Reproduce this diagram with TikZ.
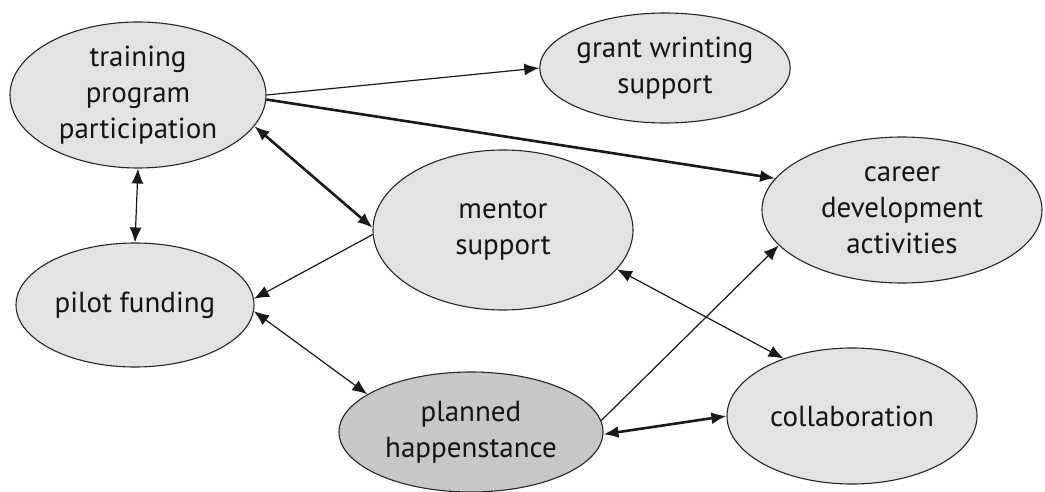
\documentclass[tikz,border=0pt]{standalone}
\usepackage{fontspec}
\setmainfont{PT Sans}
\usetikzlibrary{shapes.geometric,arrows.meta}
\begin{document}
\begin{tikzpicture}[x=1pt,y=-1pt,
  bubble/.style={ellipse, draw=black!85, line width=1.1pt, fill=black!11,
    inner sep=0pt, align=center, text=black!92,
    font=\fontsize{29}{36}\selectfont},
  darkbubble/.style={bubble, fill=black!22},
  lnk/.style={line width=1.2pt, draw=black!90},
  lnkbold/.style={line width=2.6pt, draw=black!90},
  tip/.tip={Latex[length=15pt,width=12pt]}
]
\useasboundingbox (0,0) rectangle (1045,492);

% concepts
\node[bubble, minimum width=256pt, minimum height=146pt] (train) at (138,95)
  {training\\program\\participation};
\node[bubble, minimum width=220pt, minimum height=110pt] (grant) at (665,68)
  {grant wrinting\\support};
\node[bubble, minimum width=280pt, minimum height=146pt] (career) at (902,210)
  {career\\development\\activities};
\node[bubble, minimum width=260pt, minimum height=160pt] (mentor) at (503,230)
  {mentor\\support};
\node[bubble, minimum width=238pt, minimum height=124pt] (pilot) at (135,305)
  {pilot funding};
\node[darkbubble, minimum width=264pt, minimum height=120pt] (planned) at (471,432)
  {planned\\happenstance};
\node[bubble, minimum width=250pt, minimum height=136pt] (collab) at (852,416)
  {collaboration};

% relations
\draw[lnk, -tip] (train.east) -- (grant.west);
\draw[lnkbold, -tip] (train.-2) -- (career.166);
\draw[lnkbold, tip-tip] (train.-15) -- (mentor.179);
\draw[lnk, tip-tip] (train.south) -- (pilot.north);
\draw[lnk, -tip] (mentor.182) -- (pilot.3);
\draw[lnk, tip-tip] (pilot.-3) -- (planned.160);
\draw[lnk, -tip] (planned.5) -- (career.196);
\draw[lnkbold, tip-tip] (planned.-1) -- (collab.west);
\draw[lnk, tip-tip] (mentor.-19) -- (collab.140);
\end{tikzpicture}
\end{document}
